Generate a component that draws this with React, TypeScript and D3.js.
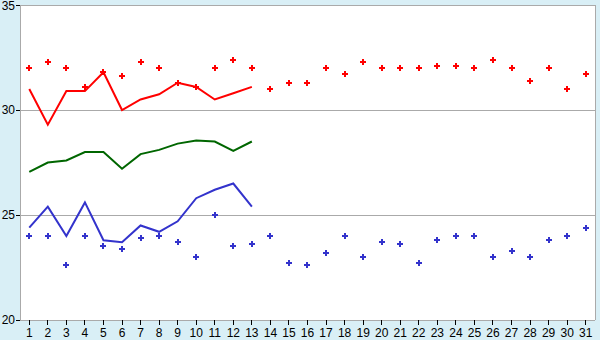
import React from "react";
import * as d3 from "d3";

const days = d3.range(1, 32).map(String);
const maxDots = [32, 32.3, 32, 31.1, 31.8, 31.6, 32.3, 32, 31.3, 31.1, 32, 32.4, 32, 31.0, 31.3, 31.3, 32, 31.7, 32.3, 32, 32, 32, 32.1, 32.1, 32, 32.4, 32, 31.4, 32, 31.0, 31.7];
const minDots = [24.0, 24.0, 22.6, 24.0, 23.5, 23.4, 23.9, 24.0, 23.7, 23.0, 25.0, 23.5, 23.6, 24.0, 22.7, 22.6, 23.2, 24.0, 23.0, 23.7, 23.6, 22.7, 23.8, 24.0, 24.0, 23.0, 23.3, 23.0, 23.8, 24.0, 24.4];
const maxLine = [31.0, 29.3, 30.9, 30.9, 31.8, 30.0, 30.5, 30.75, 31.3, 31.1, 30.5, 30.8, 31.1];
const avgLine = [27.05, 27.5, 27.6, 28.0, 28.0, 27.2, 27.9, 28.1, 28.4, 28.55, 28.5, 28.05, 28.5];
const minLine = [24.4, 25.4, 24.0, 25.6, 23.8, 23.7, 24.5, 24.2, 24.7, 25.8, 26.2, 26.5, 25.4];
const yTicks = [20, 25, 30, 35];

const W = 600, H = 340;
const left = 20, right = 595, top = 5, bottom = 320;

export default function App() {
  const x = d3.scaleBand<string>().domain(days).range([left, right]);
  const cx = (i: number) => (x(days[i]) as number) + x.bandwidth() / 2;
  const y = d3.scaleLinear().domain([20, 35]).range([bottom, top]);
  const line = d3.line<number>().x((_, i) => cx(i)).y((v) => y(v));
  const cross = (px: number, py: number) =>
    `M${px - 1},${py - 3}h2v2h2v2h-2v2h-2v-2h-2v-2h2z`;
  const font = "'Liberation Sans', Arial, sans-serif";
  return (
    <svg width={W} height={H} style={{ position: "absolute", left: 0, top: 0 }}>
      <rect x={0} y={0} width={W} height={H} fill="#d9eff6" />
      <rect x={left} y={top} width={right - left} height={bottom - top} fill="#fff" />
      {yTicks.map((t) => (
        <g key={t}>
          <line x1={left} x2={right} y1={y(t)} y2={y(t)} stroke="#aaaaaa" strokeWidth={1} shapeRendering="crispEdges" />
          <line x1={16} x2={left} y1={y(t)} y2={y(t)} stroke="#000" strokeWidth={1} shapeRendering="crispEdges" />
          <text x={15} y={Math.max(y(t) + 4, 10)} textAnchor="end" fontSize={12} fontFamily={font} fill="#000">{t}</text>
        </g>
      ))}
      <line x1={left} x2={left} y1={top} y2={bottom} stroke="#aaaaaa" shapeRendering="crispEdges" />
      <line x1={right} x2={right} y1={top} y2={bottom} stroke="#aaaaaa" shapeRendering="crispEdges" />
      {days.map((d, i) => (
        <g key={d}>
          <line x1={cx(i)} x2={cx(i)} y1={bottom} y2={bottom + 5} stroke="#000" shapeRendering="crispEdges" />
          <text x={cx(i)} y={bottom + 17} textAnchor="middle" fontSize={12} fontFamily={font} fill="#000">{d}</text>
        </g>
      ))}
      <path d={line(maxLine) || ""} fill="none" stroke="#ff0000" strokeWidth={2} />
      <path d={line(avgLine) || ""} fill="none" stroke="#006600" strokeWidth={2} />
      <path d={line(minLine) || ""} fill="none" stroke="#3333cc" strokeWidth={2} />
      {maxDots.map((v, i) => (
        <path key={"mx" + i} d={cross(Math.round(cx(i)), Math.round(y(v)))} fill="#ff0000" />
      ))}
      {minDots.map((v, i) => (
        <path key={"mn" + i} d={cross(Math.round(cx(i)), Math.round(y(v)))} fill="#3333cc" />
      ))}
    </svg>
  );
}
